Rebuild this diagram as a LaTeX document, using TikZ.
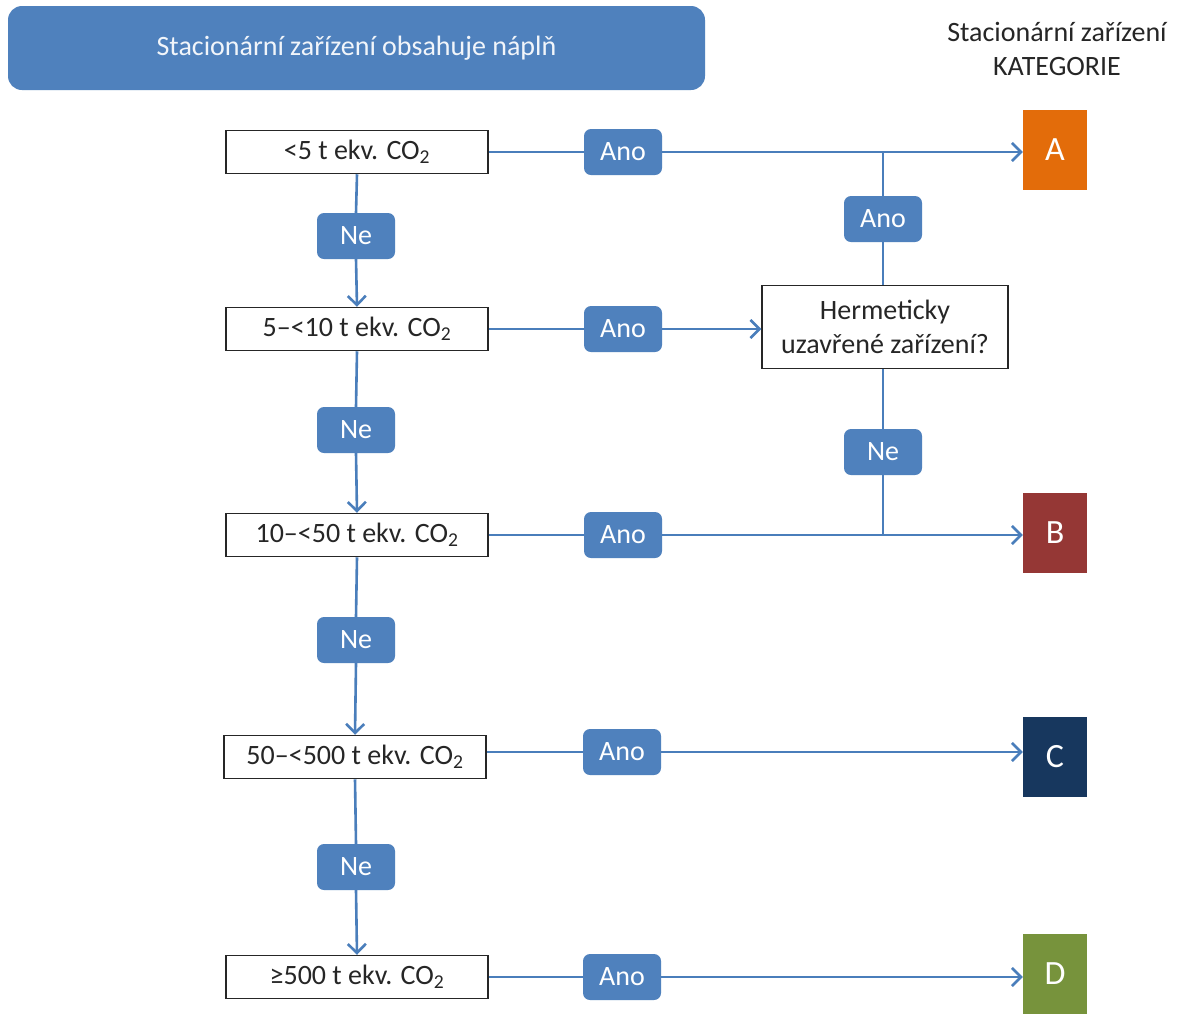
\documentclass[tikz,border=0pt]{standalone}
\usepackage{fontspec}
\setmainfont{Carlito}
\usetikzlibrary{arrows.meta}
\definecolor{lblue}{HTML}{4F81BD}
\definecolor{lineb}{HTML}{4A7EBB}
\definecolor{catA}{HTML}{E36C0A}
\definecolor{catB}{HTML}{953735}
\definecolor{catC}{HTML}{17375E}
\definecolor{catD}{HTML}{77933C}
\tikzset{
  qbox/.style={draw=black!85, line width=1.5pt, fill=white, minimum width=262pt, minimum height=43pt, inner sep=0pt, font=\fontsize{28}{32}\selectfont, text=black!85},
  lbl/.style={fill=lblue, rounded corners=7pt, minimum width=78pt, minimum height=46pt, inner sep=0pt, text=white, font=\fontsize{28}{32}\selectfont},
  catbox/.style={minimum width=64pt, minimum height=80pt, inner sep=0pt, text=white, font=\fontsize{34}{38}\selectfont},
  conn/.style={draw=lineb, line width=2.6pt},
  arr/.style={conn, -{Straight Barb[length=9pt,width=18pt,line width=2.6pt]}},
}
\begin{document}
\begin{tikzpicture}[x=1pt,y=-1pt]
\useasboundingbox (0,0) rectangle (1180,1013);
\fill[white] (0,0) rectangle (1180,1013);
% banner
\node[fill=lblue, rounded corners=14pt, minimum width=697pt, minimum height=84pt, inner sep=0pt, text=white!92!lblue, font=\fontsize{28}{32}\selectfont] (banner) at (356.5,48) {Stacionární zařízení obsahuje náplň};
\node[align=center, font=\fontsize{28}{34}\selectfont, text=black!85] (cathead) at (1057,49) {Stacionární zařízení\\KATEGORIE};
% question boxes
\node[qbox] (b1) at (357,152) {<5 t ekv. CO\textsubscript{2}};
\node[qbox] (b2) at (357,329) {5–<10 t ekv. CO\textsubscript{2}};
\node[qbox] (b3) at (357,535) {10–<50 t ekv. CO\textsubscript{2}};
\node[qbox] (b4) at (355,757) {50–<500 t ekv. CO\textsubscript{2}};
\node[qbox] (b5) at (357,977) {≥500 t ekv. CO\textsubscript{2}};
\node[qbox, minimum width=246pt, minimum height=83pt, align=center, font=\fontsize{28}{34}\selectfont] (herm) at (885,327) {Hermeticky\\uzavřené zařízení?};
% categories
\node[catbox, fill=catA] (cA) at (1055,150) {A};
\node[catbox, fill=catB] (cB) at (1055,533) {B};
\node[catbox, fill=catC] (cC) at (1055,757) {C};
\node[catbox, fill=catD] (cD) at (1055,974) {D};
% labels
\node[lbl] (ne1) at (356,236) {Ne};
\node[lbl] (ne2) at (356,430) {Ne};
\node[lbl] (ne3) at (356,640) {Ne};
\node[lbl] (ne4) at (356,867) {Ne};
\node[lbl] (ano1) at (623,152) {Ano};
\node[lbl] (ano2) at (623,329) {Ano};
\node[lbl] (ano3) at (623,535) {Ano};
\node[lbl] (ano4) at (622,752) {Ano};
\node[lbl] (ano5) at (622,977) {Ano};
\node[lbl] (anoH) at (883,219) {Ano};
\node[lbl] (neH) at (883,452) {Ne};
\coordinate (jA) at (883,152);
\coordinate (jB) at (883,535);
% vertical connectors
\draw[conn] (b1.south) -- (ne1.north);
\draw[arr] (ne1.south) -- (b2.north);
\draw[conn] (b2.south) -- (ne2.north);
\draw[arr] (ne2.south) -- (b3.north);
\draw[conn] (b3.south) -- (ne3.north);
\draw[arr] (ne3.south) -- (b4.north);
\draw[conn] (b4.south) -- (ne4.north);
\draw[arr] (ne4.south) -- (b5.north);
% horizontal connectors
\draw[conn] (b1.east) -- (ano1.west);
\draw[arr] (ano1.east) -- (cA.west |- ano1.east);
\draw[conn] (b2.east) -- (ano2.west);
\draw[arr] (ano2.east) -- (herm.west |- ano2.east);
\draw[conn] (b3.east) -- (ano3.west);
\draw[arr] (ano3.east) -- (cB.west |- ano3.east);
\draw[conn] (b4.east |- ano4.west) -- (ano4.west);
\draw[arr] (ano4.east) -- (cC.west |- ano4.east);
\draw[conn] (b5.east) -- (ano5.west);
\draw[arr] (ano5.east) -- (cD.west |- ano5.east);
% hermetic branch
\draw[conn] (herm.north -| anoH) -- (anoH.south);
\draw[conn] (anoH.north) -- (jA);
\draw[conn] (herm.south -| neH) -- (neH.north);
\draw[conn] (neH.south) -- (jB);
\end{tikzpicture}
\end{document}
